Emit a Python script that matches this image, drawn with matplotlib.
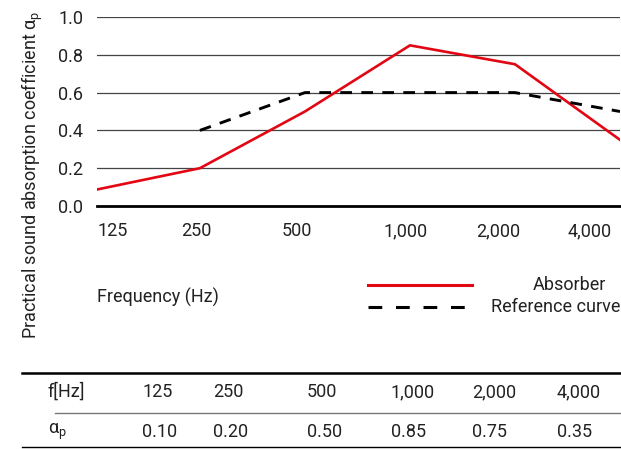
import numpy as np
import matplotlib
matplotlib.use("Agg")
import matplotlib.pyplot as plt
from matplotlib.lines import Line2D

plt.rcParams['font.family'] = ['Roboto', 'DejaVu Sans']
plt.rcParams['mathtext.default'] = 'regular'

# datos
frecuencias = ["125", "250", "500", "1,000", "2,000", "4,000"]
absorber = [0.085, 0.20, 0.50, 0.85, 0.75, 0.35]
referencia = [np.nan, 0.40, 0.60, 0.60, 0.60, 0.50]
tabla_alpha = ["0.10", "0.20", "0.50", "0.85", "0.75", "0.35"]

rojo = "#e30613"
texto = "#222222"
fs = 13

fig = plt.figure(figsize=(6.21, 4.49), dpi=100)
W, H = 621, 449
ax = fig.add_axes([97 / W, 1 - 206 / H, 523 / W, 189 / H])

x = np.arange(len(frecuencias))
ax.plot(x, absorber, color=rojo, lw=1.9, solid_joinstyle="miter")
ax.plot(x, referencia, color="black", lw=2.1, dashes=(4, 3.2))

ax.set_xlim(0.02, 5)
ax.set_ylim(0, 1.0)
ax.set_yticks(np.arange(0, 1.01, 0.2))
ax.set_yticklabels(["%.1f" % v for v in np.arange(0, 1.01, 0.2)], fontsize=fs, color=texto)
ax.tick_params(axis="y", length=0, pad=10)
ax.set_xticks([])
for s in ["left", "right", "top"]:
    ax.spines[s].set_visible(False)
ax.spines["bottom"].set_linewidth(2)
ax.spines["bottom"].set_color("black")
ax.grid(axis="y", color="#444444", lw=0.9)
ax.set_axisbelow(True)

# etiquetas del eje x (desplazadas como en el original)
pos_etiquetas = [113, 196, 297, 406, 498, 590]
for lab, px in zip(frecuencias, pos_etiquetas):
    fig.text(px / W, 1 - 231 / H, lab, ha="center", va="center", fontsize=fs, color=texto)

fig.text(32 / W, 1 - 175 / H, "Practical sound absorption coefficient α$_p$",
         rotation=90, ha="center", va="center", fontsize=fs, color=texto)

fig.text(97 / W, 1 - 297 / H, "Frequency (Hz)", ha="left", va="center", fontsize=fs, color=texto)

# leyenda
fig.add_artist(Line2D([368 / W, 472 / W], [1 - 285 / H] * 2, color=rojo, lw=2.2))
fig.add_artist(Line2D([368 / W, 472 / W], [1 - 307 / H] * 2, color="black", lw=2.2, dashes=(4.5, 4.5)))
fig.text(606 / W, 1 - 285 / H, "Absorber", ha="right", va="center", fontsize=fs, color=texto)
fig.text(620 / W, 1 - 307 / H, "Reference curve", ha="right", va="center", fontsize=fs, color=texto)

# tabla
fig.add_artist(Line2D([22 / W, 620 / W], [1 - 373 / H] * 2, color="black", lw=1.8))
fig.add_artist(Line2D([55 / W, 620 / W], [1 - 413 / H] * 2, color="#777777", lw=1.0))
fig.add_artist(Line2D([22 / W, 620 / W], [1 - 447 / H] * 2, color="black", lw=1.0))

col_x = [142, 213, 307, 391, 472, 557]
fig.text(48 / W, 1 - 392 / H, "f[Hz]", ha="left", va="center", fontsize=fs, color=texto)
fig.text(48 / W, 1 - 432 / H, "α$_p$", ha="left", va="center", fontsize=fs, color=texto)
for cx, f, a in zip(col_x, frecuencias, tabla_alpha):
    fig.text(cx / W, 1 - 392 / H, f, ha="left", va="center", fontsize=fs, color=texto)
    fig.text(cx / W, 1 - 432 / H, a, ha="left", va="center", fontsize=fs, color=texto)

fig.savefig("out.png", dpi=100)
